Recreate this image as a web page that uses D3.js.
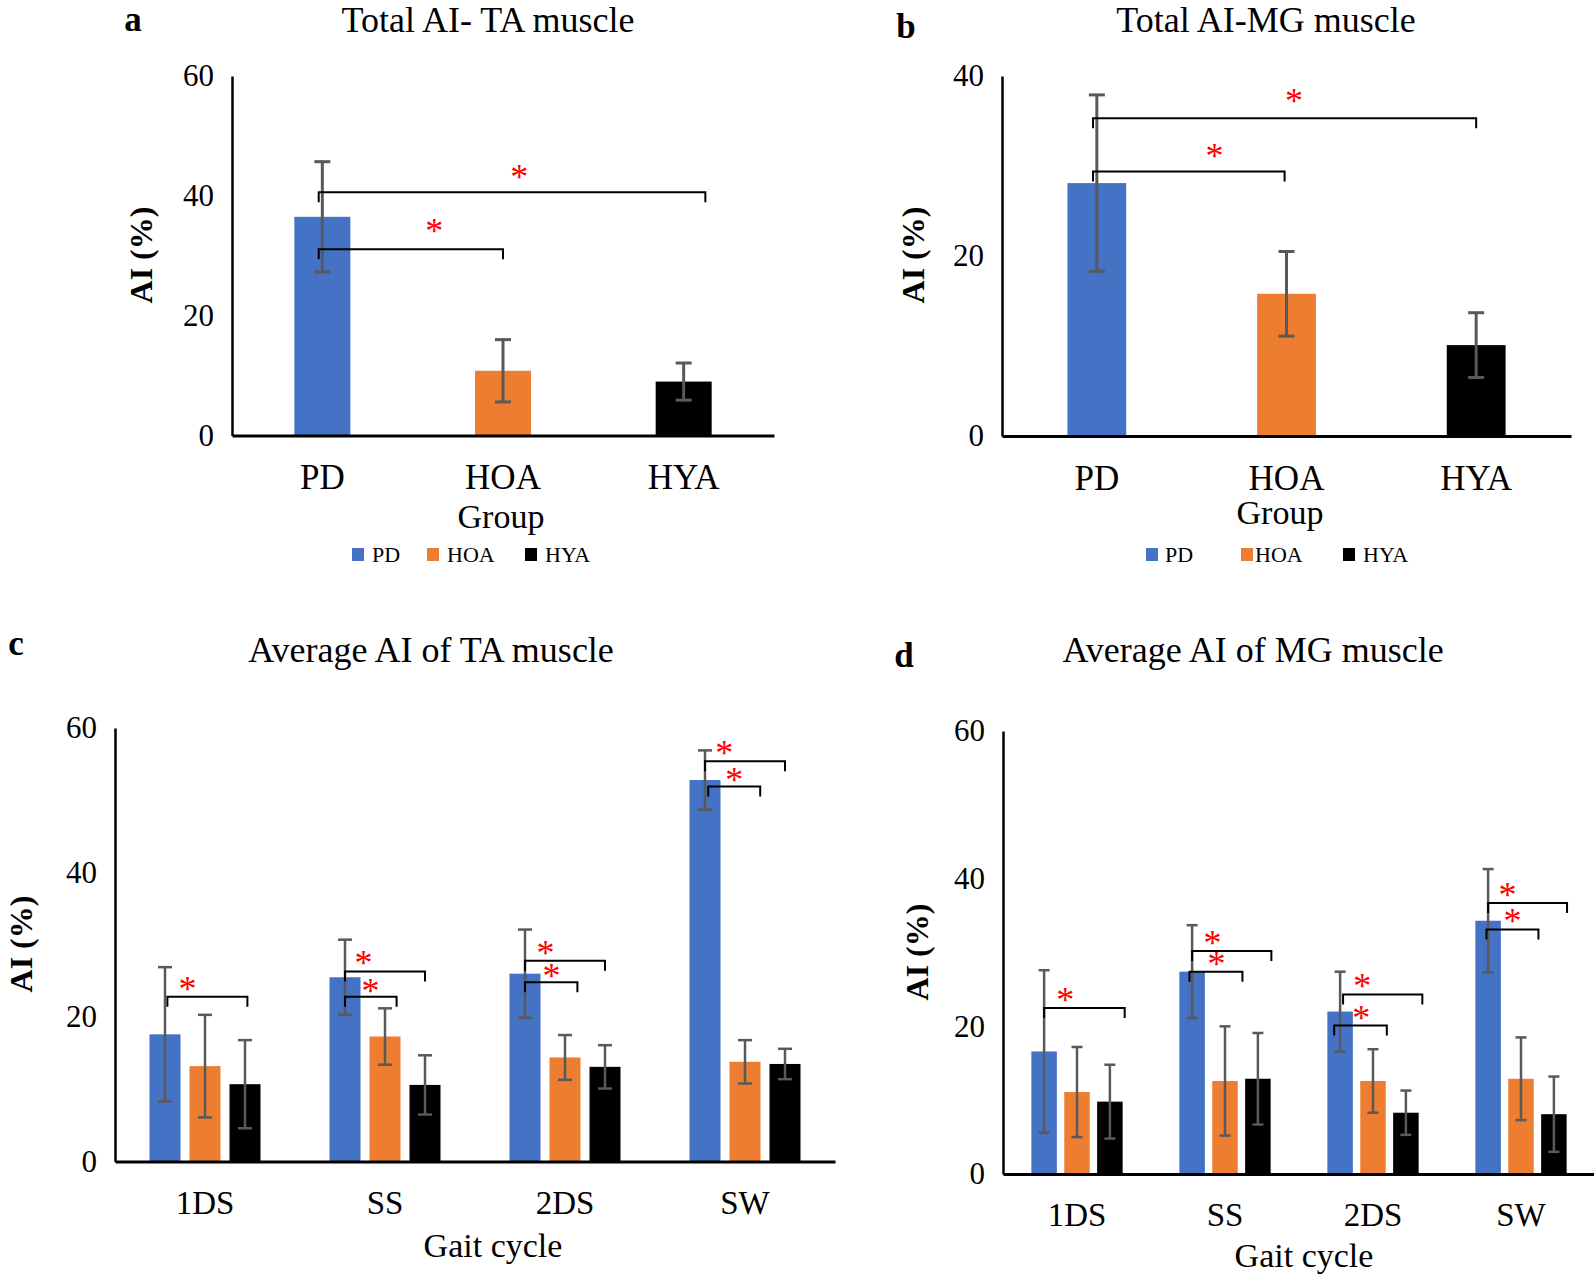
<!DOCTYPE html>
<html>
<head>
<meta charset="utf-8">
<script src="https://cdn.jsdelivr.net/npm/d3@7"></script>
<style>
  body { margin: 0; background: #fff; }
  svg { font-family: "Liberation Serif", "Times New Roman", serif; }
</style>
</head>
<body>
<script>
// data
// =================================
var groups = ["PD", "HOA", "HYA"];
var phases = ["1DS", "SS", "2DS", "SW"];

// a: total AI, TA muscle
var totalTA = [36.5, 10.8, 9.0];
var totalTAsd = [9.2, 5.2, 3.1];
// b: total AI, MG muscle
var totalMG = [28.1, 15.8, 10.1];
var totalMGsd = [9.8, 4.7, 3.6];

// c: average AI of TA per gait phase
var avgTA_PD = [17.6, 25.5, 26.0, 52.8];
var avgTA_PDsd = [9.3, 5.2, 6.1, 4.1];
var avgTA_HOA = [13.2, 17.3, 14.4, 13.8];
var avgTA_HOAsd = [7.1, 3.9, 3.1, 3.0];
var avgTA_HYA = [10.7, 10.6, 13.1, 13.5];
var avgTA_HYAsd = [6.1, 4.1, 3.0, 2.1];

// d: average AI of MG per gait phase
var avgMG_PD = [16.6, 27.4, 22.0, 34.3];
var avgMG_PDsd = [11.0, 6.3, 5.4, 7.0];
var avgMG_HOA = [11.1, 12.6, 12.6, 12.9];
var avgMG_HOAsd = [6.1, 7.4, 4.3, 5.6];
var avgMG_HYA = [9.8, 12.9, 8.3, 8.1];
var avgMG_HYAsd = [5.0, 6.2, 3.0, 5.1];

// significance brackets: [category, from slot, to slot, bracket AI, star slot, star AI]
var sigA = [["PD", -0.02, 1.0, 31.1, 0.62, 34.9], ["PD", -0.02, 2.12, 40.6, 1.09, 44.0]];
var sigB = [["PD", -0.02, 0.99, 29.4, 0.62, 31.7], ["PD", -0.02, 2.0, 35.3, 1.04, 37.8]];
var sigC = [
  ["1DS", 0.06, 2.06, 22.8, 0.56, 24.6],
  ["SS", 0, 2.0, 26.3, 0.46, 28.2], ["SS", 0, 1.29, 22.8, 0.64, 24.3],
  ["2DS", 0, 2.0, 27.8, 0.51, 29.6], ["2DS", 0, 1.31, 24.8, 0.66, 26.3],
  ["SW", 0, 2.0, 55.4, 0.48, 57.2], ["SW", 0.08, 1.38, 51.9, 0.73, 53.5]
];
var sigD = [
  ["1DS", 0, 2.45, 22.5, 0.64, 24.2],
  ["SS", 0, 2.41, 30.2, 0.62, 32.0], ["SS", -0.08, 1.53, 27.4, 0.74, 29.1],
  ["2DS", 0.09, 2.5, 24.3, 0.67, 26.1], ["2DS", -0.18, 1.42, 20.1, 0.64, 21.8],
  ["SW", 0, 2.4, 36.7, 0.59, 38.4], ["SW", -0.05, 1.53, 33.1, 0.74, 34.9]
];

var colors = { PD: "#4472C4", HOA: "#ED7D31", HYA: "#000000" };
var errColor = "#595959";

var svg = d3.select("body").append("svg")
  .attr("width", 1594)
  .attr("height", 1276);

// helpers
function addText(x, y, str, size, opts) {
  opts = opts || {};
  var t = svg.append("text")
    .attr("x", x).attr("y", y)
    .attr("font-size", size)
    .attr("text-anchor", opts.anchor || "middle")
    .attr("fill", opts.fill || "#000")
    .text(str);
  if (opts.bold) t.attr("font-weight", "bold");
  return t;
}

function yTitle(x, y) {
  svg.append("text")
    .attr("transform", `translate(${x}, ${y}) rotate(-90)`)
    .attr("text-anchor", "middle")
    .attr("font-size", 32)
    .attr("font-weight", "bold")
    .text("AI (%)");
}

function drawAxes(x, y, yTicks, base, left, tickFont, catFont) {
  var bottom = svg.append("g")
    .attr("transform", `translate(0, ${base})`)
    .call(d3.axisBottom(x).tickSize(0).tickSizeOuter(0).tickPadding(29));
  bottom.attr("font-family", null).attr("font-size", catFont);
  bottom.select(".domain").attr("stroke", "#000").attr("stroke-width", 3);
  bottom.selectAll("text").attr("fill", "#000");

  var leftAx = svg.append("g")
    .attr("transform", `translate(${left}, 0)`)
    .call(d3.axisLeft(y).tickValues(yTicks).tickSize(0).tickSizeOuter(0).tickPadding(18));
  leftAx.attr("font-family", null).attr("font-size", tickFont);
  leftAx.select(".domain").attr("stroke", "#000").attr("stroke-width", 2.5);
  leftAx.selectAll("text").attr("fill", "#000");
}

function errBar(cx, y, mean, sd, capW, sw) {
  var g = svg.append("g").attr("stroke", errColor).attr("stroke-width", sw);
  g.append("line").attr("x1", cx).attr("x2", cx).attr("y1", y(mean + sd)).attr("y2", y(mean - sd));
  g.append("line").attr("x1", cx - capW / 2).attr("x2", cx + capW / 2).attr("y1", y(mean + sd)).attr("y2", y(mean + sd));
  g.append("line").attr("x1", cx - capW / 2).attr("x2", cx + capW / 2).attr("y1", y(mean - sd)).attr("y2", y(mean - sd));
}

function bracket(xA, xB, yy, xs, ys, drop) {
  svg.append("path")
    .attr("d", `M${xA},${yy + drop}V${yy}H${xB}V${yy + drop}`)
    .attr("fill", "none")
    .attr("stroke", "#000")
    .attr("stroke-width", 2);
  var fs = 36;
  addText(xs, ys + 0.47 * fs, "*", fs, { fill: "#FF0000" });
}

// Panels a and b: one bar per group
// =================================
function totalPanel(means, sds, sig, range, ymax, ytop, base, capW) {
  var x = d3.scaleBand().domain(groups).range(range).paddingInner(0.69).paddingOuter(0.345);
  var y = d3.scaleLinear().domain([0, ymax]).range([base, ytop]);

  svg.append("g").selectAll("rect")
    .data(groups).enter().append("rect")
    .attr("x", d => x(d))
    .attr("width", x.bandwidth())
    .attr("y", (d, i) => y(means[i]))
    .attr("height", (d, i) => base - y(means[i]))
    .attr("fill", d => colors[d]);

  groups.forEach(function(gname, i) {
    errBar(x(gname) + x.bandwidth() / 2, y, means[i], sds[i], capW, 3);
  });

  drawAxes(x, y, d3.range(0, ymax + 1, 20), base, range[0], 31, 35);

  var step = x.step();
  sig.forEach(function(s) {
    var c0 = x(s[0]) + x.bandwidth() / 2;
    bracket(c0 + s[1] * step, c0 + s[2] * step, y(s[3]), c0 + s[4] * step, y(s[5]), 10);
  });
}

totalPanel(totalTA, totalTAsd, sigA, [232, 774], 60, 76, 435.5, 16);
totalPanel(totalMG, totalMGsd, sigB, [1002, 1571], 40, 76, 436, 16);

// Panels c and d: grouped bars per gait phase
// =================================
function phasePanel(series, sig, range, ytop, base, capW) {
  var x = d3.scaleBand().domain(phases).range(range);
  var xs = d3.scaleBand().domain(groups).range([0, x.bandwidth()]).paddingInner(0.225).paddingOuter(0.8625);
  var y = d3.scaleLinear().domain([0, 60]).range([base, ytop]);

  groups.forEach(function(gname, gi) {
    var m = series[gi][0];
    svg.append("g").selectAll("rect")
      .data(phases).enter().append("rect")
      .attr("x", d => x(d) + xs(gname))
      .attr("width", xs.bandwidth())
      .attr("y", (d, i) => y(m[i]))
      .attr("height", (d, i) => base - y(m[i]))
      .attr("fill", colors[gname]);
  });

  groups.forEach(function(gname, gi) {
    var m = series[gi][0], sd = series[gi][1];
    phases.forEach(function(p, i) {
      errBar(x(p) + xs(gname) + xs.bandwidth() / 2, y, m[i], sd[i], capW, 2.5);
    });
  });

  drawAxes(x, y, [0, 20, 40, 60], base, range[0], 31, 33);

  var step = xs.step();
  sig.forEach(function(s) {
    var c0 = x(s[0]) + xs("PD") + xs.bandwidth() / 2;
    bracket(c0 + s[1] * step, c0 + s[2] * step, y(s[3]), c0 + s[4] * step, y(s[5]), 10);
  });
}

phasePanel([[avgTA_PD, avgTA_PDsd], [avgTA_HOA, avgTA_HOAsd], [avgTA_HYA, avgTA_HYAsd]],
  sigC, [115, 835], 728, 1161.5, 14);
phasePanel([[avgMG_PD, avgMG_PDsd], [avgMG_HOA, avgMG_HOAsd], [avgMG_HYA, avgMG_HYAsd]],
  sigD, [1003, 1595], 731, 1174, 11);

// titles, panel letters, axis titles
// =================================
addText(133, 31, "a", 35, { bold: true });
addText(488, 32, "Total AI- TA muscle", 36);
addText(906, 38, "b", 35, { bold: true });
addText(1266, 32, "Total AI-MG muscle", 36);
addText(16, 655, "c", 35, { bold: true });
addText(431, 662, "Average AI of TA muscle", 36);
addText(904, 667, "d", 35, { bold: true });
addText(1253, 662, "Average AI of MG muscle", 36);

yTitle(152, 255);
yTitle(924, 255);
yTitle(32, 944);
yTitle(928, 952);

addText(501, 528, "Group", 34);
addText(1280, 524, "Group", 34);
addText(493, 1257, "Gait cycle", 34);
addText(1304, 1267, "Gait cycle", 34);

// legends under a and b
function legend(sqX, txtX) {
  groups.forEach(function(gname, i) {
    svg.append("rect")
      .attr("x", sqX[i]).attr("y", 548)
      .attr("width", 12).attr("height", 13)
      .attr("fill", colors[gname]);
    addText(txtX[i], 562, gname, 22, { anchor: "start" });
  });
}
legend([352, 427, 525], [372, 447, 545]);
legend([1146, 1241, 1343], [1165, 1255, 1363]);
</script>
</body>
</html>
